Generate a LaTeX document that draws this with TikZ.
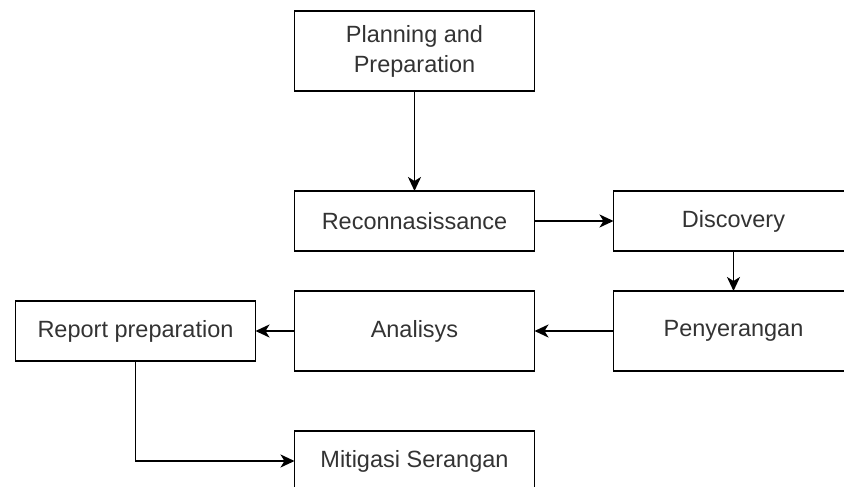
\documentclass[tikz,border=0pt]{standalone}
\usepackage{fontspec}
\setmainfont{Liberation Sans}
\usetikzlibrary{positioning,arrows.meta}

\begin{document}
\begin{tikzpicture}[
  box/.style={draw,line width=1.9pt,minimum width=240pt,minimum height=60pt,
              align=center,font=\fontsize{23.5}{30}\selectfont,text=black!80,outer sep=0pt},
  arr/.style={-{Stealth[length=14pt,width=13pt,inset=4pt]},line width=1.9pt}
]
\useasboundingbox (0pt,0pt) rectangle (844pt,-487pt);

% Stages
\node[box,minimum height=80pt] (plan) at (414.5pt,-51pt) {Planning and\\Preparation};
\node[box,below=100pt of plan] (recon) {Reconnasissance};
\node[box,right=79pt of recon] (disc) {Discovery};
\node[box,minimum height=80pt,below=40pt of disc] (attack) {Penyerangan};
\node[box,minimum height=80pt,left=79pt of attack] (analysis) {Analisys};
\node[box,left=39pt of analysis] (report) {Report preparation};
\node[box,below=60pt of analysis] (mitig) {Mitigasi Serangan};

% Arrows
\draw[arr] (plan) -- (recon);
\draw[arr] (recon) -- (disc);
\draw[arr] (disc) -- (attack);
\draw[arr] (attack) -- (analysis);
\draw[arr] (analysis) -- (report);
\draw[arr] (report.south) |- (mitig.west);
\end{tikzpicture}
\end{document}
